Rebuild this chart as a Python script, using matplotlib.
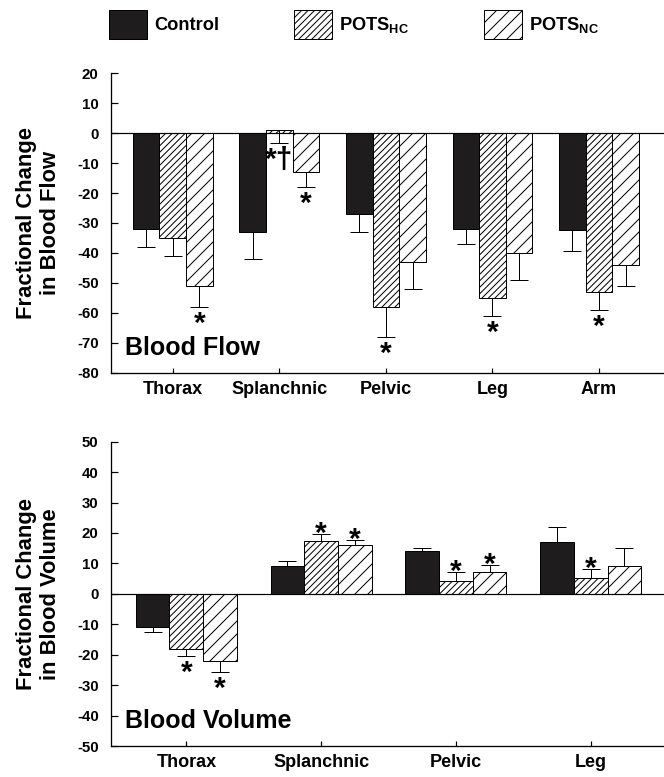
import numpy as np
import matplotlib
matplotlib.use("Agg")
import matplotlib.pyplot as plt
from matplotlib.patches import Patch

# ---- data -------------------------------------------------------------
flow_regions = ["Thorax", "Splanchnic", "Pelvic", "Leg", "Arm"]
flow_control = [-32, -33, -27, -32, -32.5]
flow_control_se = [6, 9, 6, 5, 7]
flow_hc = [-35, 1, -58, -55, -53]
flow_hc_se = [6, 4.3, 10, 6, 6]
flow_nc = [-51, -13, -43, -40, -44]
flow_nc_se = [7, 5, 9, 9, 7]
flow_control_sig = ["", "", "", "", ""]
flow_hc_sig = ["", "*\u2020", "*", "*", "*"]
flow_nc_sig = ["*", "*", "", "", ""]

volume_regions = ["Thorax", "Splanchnic", "Pelvic", "Leg"]
volume_control = [-11, 9, 14, 17.2]
volume_control_se = [1.6, 1.7, 1.2, 4.8]
volume_hc = [-18, 17.4, 4.2, 5.3]
volume_hc_se = [2.3, 2.3, 3.0, 3.0]
volume_nc = [-22, 16, 7.2, 9]
volume_nc_se = [3.7, 1.8, 2.4, 6.0]
volume_control_sig = ["", "", "", ""]
volume_hc_sig = ["*", "*", "*", "*"]
volume_nc_sig = ["*", "*", "*", ""]

group_names = ["Control", r"POTS$_{\mathbf{HC}}$", r"POTS$_{\mathbf{NC}}$"]

# ---- figure setup -----------------------------------------------------
DPI = 78
W, H = 664, 777


def pt(px):
    """Convert a size in pixels to points at the figure dpi."""
    return px * 72.0 / DPI


plt.rcParams["font.family"] = ["Liberation Sans", "DejaVu Sans"]
plt.rcParams["font.weight"] = "bold"
plt.rcParams["axes.unicode_minus"] = False
plt.rcParams["hatch.linewidth"] = pt(1.0)
plt.rcParams["mathtext.fontset"] = "custom"
plt.rcParams["mathtext.rm"] = "Liberation Sans:bold"
plt.rcParams["mathtext.bf"] = "Liberation Sans:bold"

fig = plt.figure(figsize=(W / DPI, H / DPI), dpi=DPI)
fig.patch.set_facecolor("white")

BLACK = "#1e1c1c"
styles = [
    dict(facecolor=BLACK, hatch=None),
    dict(facecolor="white", hatch="////"),
    dict(facecolor="white", hatch="//"),
]


def draw_panel(ax, regions, series, errors, marks, down_only, ylim, yticks,
               ylabel, title, xlim):
    x = np.arange(len(regions))
    width = 0.25
    for i, (vals, se, sig, st) in enumerate(zip(series, errors, marks, styles)):
        vals = np.asarray(vals, dtype=float)
        se = np.asarray(se, dtype=float)
        xs = x + (i - 1) * width
        ax.bar(xs, vals, width, facecolor=st["facecolor"], hatch=st["hatch"],
               edgecolor="black", linewidth=pt(1.0), zorder=2)
        if down_only:
            direction = -np.ones_like(vals)
        else:
            direction = np.where(vals >= 0, 1.0, -1.0)
        lower = np.where(direction < 0, se, 0.0)
        upper = np.where(direction > 0, se, 0.0)
        ax.errorbar(xs, vals, yerr=[lower, upper], fmt="none", ecolor="black",
                    elinewidth=pt(1.0), capsize=pt(9), capthick=pt(1.0),
                    zorder=3)
        tips = vals + direction * se
        for xi, tip, d, s in zip(xs, tips, direction, sig):
            if not s:
                continue
            fs = 30
            centre_off = d * 8.5  # glyph centre distance from the cap (px)
            ax.annotate(s, xy=(xi, tip),
                        xytext=(0, pt(centre_off - 0.55 * fs)),
                        textcoords="offset points", ha="center",
                        va="baseline", fontsize=pt(fs), fontweight="bold",
                        zorder=4)
    ax.axhline(0, color="black", linewidth=pt(1.2), zorder=3)
    ax.set_xlim(*xlim)
    ax.set_ylim(*ylim)
    ax.set_yticks(yticks)
    ax.set_xticks(x, regions)
    for side in ("top", "right"):
        ax.spines[side].set_visible(False)
    for side in ("left", "bottom"):
        ax.spines[side].set_linewidth(pt(1.3))
    ax.tick_params(axis="x", direction="in", length=pt(5), width=pt(1.2),
                   pad=pt(8), labelsize=pt(18))
    ax.tick_params(axis="y", direction="in", length=pt(7), width=pt(1.2),
                   pad=pt(12), labelsize=pt(15))
    for lab in ax.get_xticklabels() + ax.get_yticklabels():
        lab.set_fontweight("bold")
    ax.set_ylabel(ylabel, fontsize=pt(22), fontweight="bold")
    ax.yaxis.set_label_coords(-0.09, 0.5)
    ax.text(0.025, 0.06, title, transform=ax.transAxes, fontsize=pt(25),
            fontweight="bold", ha="left", va="baseline")


left_px = 110.7
ax_flow = fig.add_axes([left_px / W, 1 - 372.7 / H, (W - left_px) / W,
                        (372.7 - 73.3) / H])
ax_vol = fig.add_axes([left_px / W, 1 - 746.0 / H, (W - left_px) / W,
                       (746.0 - 441.7) / H])

draw_panel(ax_flow, flow_regions,
           [flow_control, flow_hc, flow_nc],
           [flow_control_se, flow_hc_se, flow_nc_se],
           [flow_control_sig, flow_hc_sig, flow_nc_sig],
           True, (-80, 20), np.arange(-80, 21, 10),
           "Fractional Change\nin Blood Flow", "Blood Flow", (-0.582, 4.609))

draw_panel(ax_vol, volume_regions,
           [volume_control, volume_hc, volume_nc],
           [volume_control_se, volume_hc_se, volume_nc_se],
           [volume_control_sig, volume_hc_sig, volume_nc_sig],
           False, (-50, 50), np.arange(-50, 51, 10),
           "Fractional Change\nin Blood Volume", "Blood Volume", (-0.561, 3.544))

# ---- legend -----------------------------------------------------------
handles = [Patch(facecolor=st["facecolor"], hatch=st["hatch"],
                 edgecolor="black", linewidth=pt(1.0)) for st in styles]
leg_fs = 18.3
fig.legend(handles, group_names, loc="upper left",
           bbox_to_anchor=(109 / W, 1 - 10 / H), ncol=3, frameon=False,
           prop={"weight": "bold", "size": pt(leg_fs)},
           handlelength=38 / leg_fs, handleheight=2.05,
           handletextpad=7 / leg_fs, columnspacing=4.1,
           borderpad=0, borderaxespad=0)

fig.savefig("out.png", dpi=DPI, facecolor="white")
